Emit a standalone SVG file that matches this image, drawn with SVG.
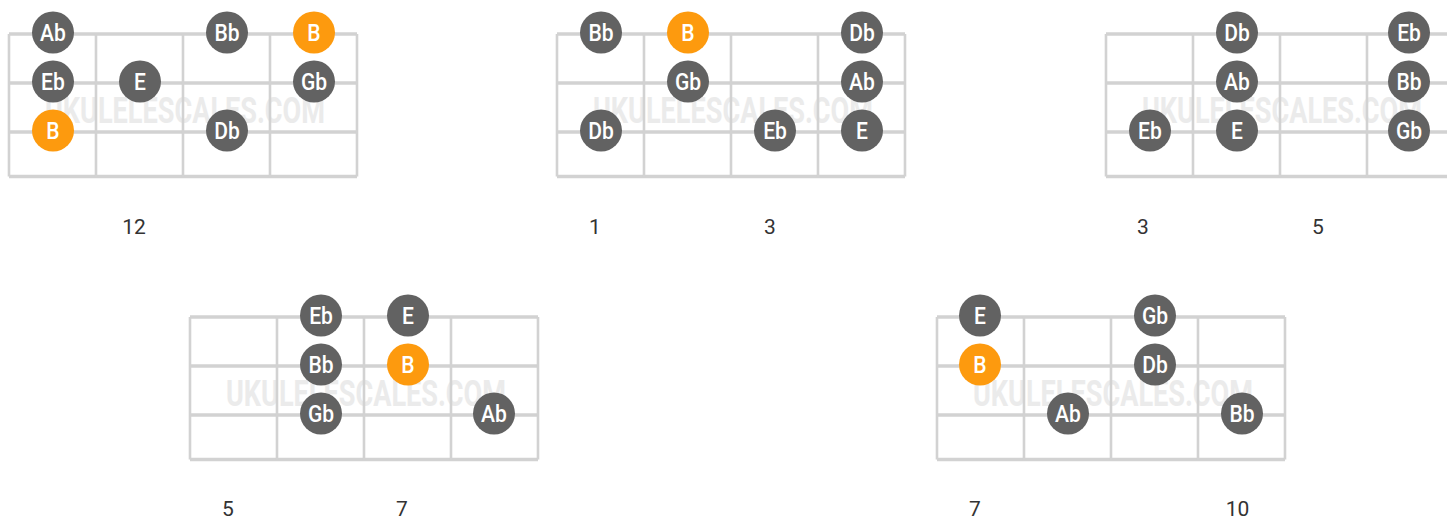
<svg xmlns="http://www.w3.org/2000/svg" width="1447" height="519" viewBox="0 0 1447 519">
<defs>
<style>
.bg{fill:#ffffff}
.wm{fill:#ebebeb;font-family:Roboto,"Liberation Sans",sans-serif;font-weight:700;font-size:37px}
.str{stroke:#d2d2d2;stroke-width:3.5;fill:none}
.fret{stroke:#d2d2d2;stroke-width:2.6;fill:none}
.n circle{fill:#626262}
.r circle{fill:#fd9a0e}
.n text,.r text{fill:#ffffff;font-family:Roboto,"Liberation Sans",sans-serif;font-weight:500;font-size:24.5px;text-anchor:middle;transform-box:fill-box;transform-origin:center;transform:scaleX(0.86)}
.lbl{fill:#333333;font-family:Roboto,"Liberation Sans",sans-serif;font-size:21px;text-anchor:middle}
</style>
<g id="frame">
<text class="wm" x="36" y="89" textLength="280" lengthAdjust="spacingAndGlyphs">UKULELESCALES.COM</text>
<path class="str" d="M0 0H348M0 49H348M0 98H348M0 142.5H348"/>
<path class="fret" d="M0 0V142.5M87 0V142.5M174 0V142.5M261 0V142.5M348 0V142.5"/>
</g>
</defs>
<rect class="bg" x="0" y="0" width="1447" height="519"/>

<g id="diagram1" transform="translate(9,34)">
<use href="#frame"/>
<g id="d1-ab" class="n"><circle cx="44" cy="-1.5" r="21"/><text x="44" y="7">Ab</text></g>
<g id="d1-bb" class="n"><circle cx="218" cy="-1.5" r="21"/><text x="218" y="7">Bb</text></g>
<g id="d1-b1" class="r"><circle cx="305" cy="-1.5" r="21"/><text x="305" y="7">B</text></g>
<g id="d1-eb" class="n"><circle cx="44" cy="47.5" r="21"/><text x="44" y="56">Eb</text></g>
<g id="d1-e" class="n"><circle cx="131" cy="47.5" r="21"/><text x="131" y="56">E</text></g>
<g id="d1-gb" class="n"><circle cx="305" cy="47.5" r="21"/><text x="305" y="56">Gb</text></g>
<g id="d1-b2" class="r"><circle cx="44" cy="96.5" r="21"/><text x="44" y="105">B</text></g>
<g id="d1-db" class="n"><circle cx="218" cy="96.5" r="21"/><text x="218" y="105">Db</text></g>
<text class="lbl" x="125" y="200">12</text>
</g>

<g id="diagram2" transform="translate(557,34)">
<use href="#frame"/>
<g id="d2-bb" class="n"><circle cx="44" cy="-1.5" r="21"/><text x="44" y="7">Bb</text></g>
<g id="d2-b" class="r"><circle cx="131" cy="-1.5" r="21"/><text x="131" y="7">B</text></g>
<g id="d2-db1" class="n"><circle cx="305" cy="-1.5" r="21"/><text x="305" y="7">Db</text></g>
<g id="d2-gb" class="n"><circle cx="131" cy="47.5" r="21"/><text x="131" y="56">Gb</text></g>
<g id="d2-ab" class="n"><circle cx="305" cy="47.5" r="21"/><text x="305" y="56">Ab</text></g>
<g id="d2-db2" class="n"><circle cx="44" cy="96.5" r="21"/><text x="44" y="105">Db</text></g>
<g id="d2-eb" class="n"><circle cx="218" cy="96.5" r="21"/><text x="218" y="105">Eb</text></g>
<g id="d2-e" class="n"><circle cx="305" cy="96.5" r="21"/><text x="305" y="105">E</text></g>
<text class="lbl" x="38" y="200">1</text>
<text class="lbl" x="213" y="200">3</text>
</g>

<g id="diagram3" transform="translate(1106,34)">
<use href="#frame"/>
<g id="d3-db" class="n"><circle cx="131" cy="-1.5" r="21"/><text x="131" y="7">Db</text></g>
<g id="d3-eb1" class="n"><circle cx="303" cy="-1.5" r="21"/><text x="303" y="7">Eb</text></g>
<g id="d3-ab" class="n"><circle cx="131" cy="47.5" r="21"/><text x="131" y="56">Ab</text></g>
<g id="d3-bb" class="n"><circle cx="303" cy="47.5" r="21"/><text x="303" y="56">Bb</text></g>
<g id="d3-eb2" class="n"><circle cx="44" cy="96.5" r="21"/><text x="44" y="105">Eb</text></g>
<g id="d3-e" class="n"><circle cx="131" cy="96.5" r="21"/><text x="131" y="105">E</text></g>
<g id="d3-gb" class="n"><circle cx="303" cy="96.5" r="21"/><text x="303" y="105">Gb</text></g>
<text class="lbl" x="37" y="200">3</text>
<text class="lbl" x="212" y="200">5</text>
</g>

<g id="diagram4" transform="translate(190,317)">
<use href="#frame"/>
<g id="d4-eb" class="n"><circle cx="131" cy="-1.5" r="21"/><text x="131" y="7">Eb</text></g>
<g id="d4-e" class="n"><circle cx="218" cy="-1.5" r="21"/><text x="218" y="7">E</text></g>
<g id="d4-bb" class="n"><circle cx="131" cy="47.5" r="21"/><text x="131" y="56">Bb</text></g>
<g id="d4-b" class="r"><circle cx="218" cy="47.5" r="21"/><text x="218" y="56">B</text></g>
<g id="d4-gb" class="n"><circle cx="131" cy="96.5" r="21"/><text x="131" y="105">Gb</text></g>
<g id="d4-ab" class="n"><circle cx="304" cy="96.5" r="21"/><text x="304" y="105">Ab</text></g>
<text class="lbl" x="38" y="199">5</text>
<text class="lbl" x="212" y="199">7</text>
</g>

<g id="diagram5" transform="translate(937,317)">
<use href="#frame"/>
<g id="d5-e" class="n"><circle cx="43" cy="-1.5" r="21"/><text x="43" y="7">E</text></g>
<g id="d5-gb" class="n"><circle cx="218" cy="-1.5" r="21"/><text x="218" y="7">Gb</text></g>
<g id="d5-b" class="r"><circle cx="43" cy="47.5" r="21"/><text x="43" y="56">B</text></g>
<g id="d5-db" class="n"><circle cx="218" cy="47.5" r="21"/><text x="218" y="56">Db</text></g>
<g id="d5-ab" class="n"><circle cx="131" cy="96.5" r="21"/><text x="131" y="105">Ab</text></g>
<g id="d5-bb" class="n"><circle cx="305" cy="96.5" r="21"/><text x="305" y="105">Bb</text></g>
<text class="lbl" x="38" y="199">7</text>
<text class="lbl" x="300.5" y="199">10</text>
</g>
</svg>
